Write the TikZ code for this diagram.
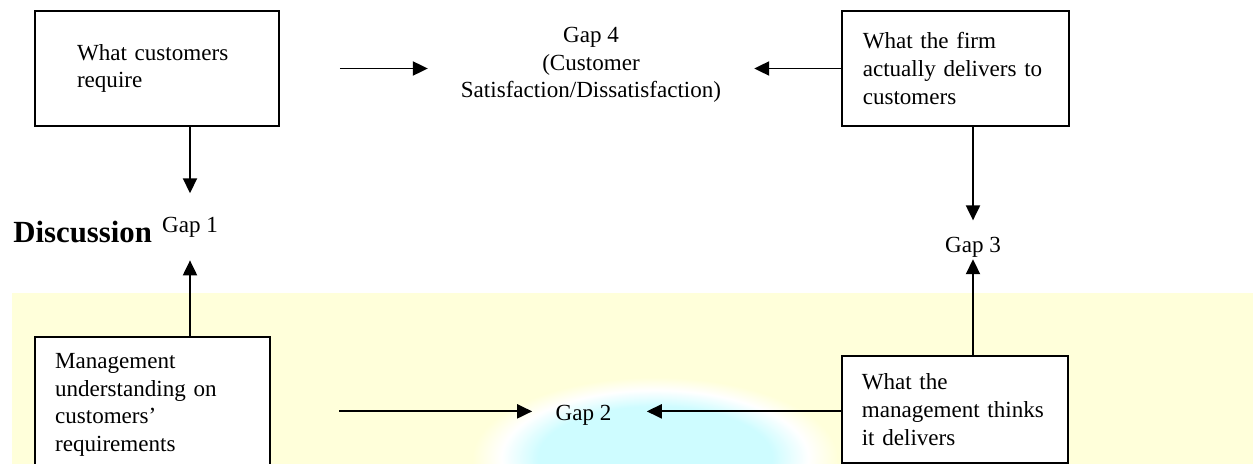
\documentclass[tikz,border=0pt]{standalone}
\usepackage{fontspec}
\setmainfont{Liberation Serif}
\usetikzlibrary{arrows.meta,positioning}
\definecolor{bgyellow}{RGB}{255,255,218}
\definecolor{blobcyan}{RGB}{206,252,255}
\pgfdeclareradialshading{blob}{\pgfpoint{0bp}{0bp}}{color(0bp)=(blobcyan); color(16bp)=(blobcyan); color(21bp)=(white); color(25bp)=(bgyellow); color(50bp)=(bgyellow)}

\begin{document}
\begin{tikzpicture}[
  x=0.52pt, y=-0.52pt,
  font=\fontsize{12}{14.4}\selectfont,
  box/.style={draw,line width=1pt,fill=white,align=left,inner ysep=0pt},
  gap/.style={inner xsep=0pt,inner ysep=1pt},
  ar/.style={-{Triangle[length=7.8pt,width=7.3pt]},line width=1pt}]

\useasboundingbox (0,0) rectangle (1253,464);
\clip (0,0) rectangle (1253,464);

% background
\fill[bgyellow] (12,293) rectangle (1253,464);
\begin{scope}
  \clip (12,293) rectangle (1253,464);
  \shade[shading=blob] (655,458) ellipse [x radius=95pt,y radius=42pt];
\end{scope}

\node[box,text width=83.2pt,inner xsep=21.8pt,minimum height=59.8pt] (c1) at (157,68.5)
  {What customers\\require};
\node[box,text width=96.2pt,inner xsep=10.9pt,minimum height=59.8pt,right=291.7pt of c1] (c2)
  {What the firm\\actually delivers to\\customers};
\node[box,text width=101.4pt,inner xsep=10.4pt,minimum height=70.7pt,below=108.7pt of c1.south west,anchor=north west] (c3)
  {Management\\understanding on\\customers'\\requirements};
\node[box,text width=96.7pt,inner xsep=10.4pt,minimum height=55.6pt,below=118.6pt of c2.south west,anchor=north west] (c4)
  {What the\\management thinks\\it delivers};

\node[gap,align=center,inner xsep=17pt] (gap4) at (591,65)
  {Gap 4\\(Customer\\Satisfaction/Dissatisfaction)};
\node[gap,inner ysep=12pt,anchor=base] (gap1) at (190,232) {Gap 1};
\node[gap,inner xsep=12pt,anchor=base] (gap2) at (583.5,420) {Gap 2};
\node[gap,anchor=base] (gap3) at (973,252) {Gap 3};
\node[anchor=base west,inner sep=0pt,font=\fontsize{16}{19}\selectfont\bfseries] (disc) at (13,242) {Discussion};

\coordinate (g2w) at ([yshift=1.8pt]gap2.west);
\coordinate (g2e) at ([yshift=1.8pt]gap2.east);

\draw[ar] (gap1 |- c1.south) -- (gap1.north);
\draw[ar] (gap1 |- c3.north) -- (gap1.south);
\draw[ar,shorten >=7.3pt] (gap3 |- c2.south) -- (gap3.north);
\draw[ar] (gap3 |- c4.north) -- (gap3.south);
\draw[ar,shorten <=31.2pt] (c1.east) -- (c1.east -| gap4.west);
\draw[ar] (c2.west) -- (c2.west -| gap4.east);
\draw[ar,shorten <=35.4pt] (c3.east |- g2w) -- (g2w);
\draw[ar,shorten >=6.2pt] (c4.west |- g2e) -- (g2e);
\end{tikzpicture}
\end{document}
